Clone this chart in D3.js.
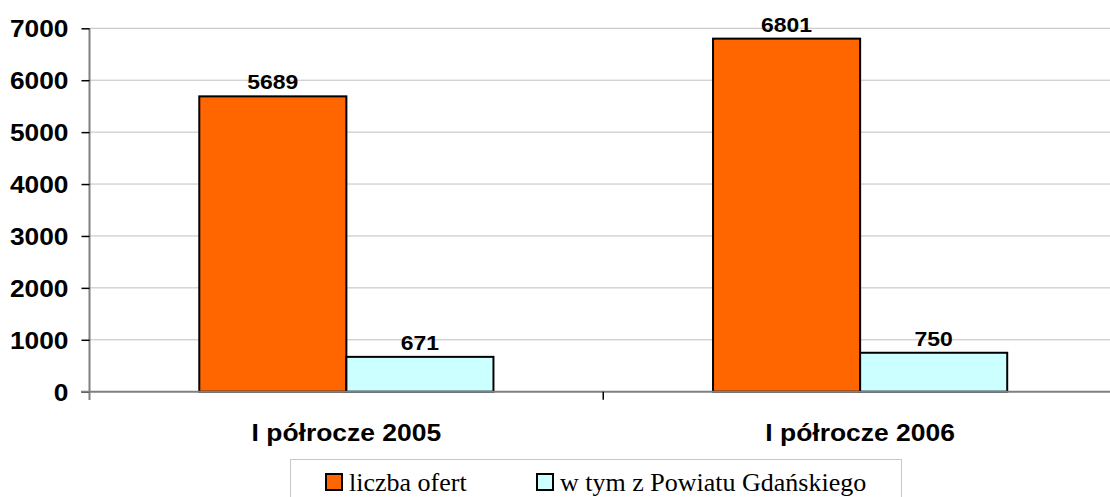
<!DOCTYPE html>
<html><head><meta charset="utf-8">
<script src="https://cdn.jsdelivr.net/npm/d3@7"></script>
<style>body{margin:0;background:#fff}svg{display:block}</style>
</head><body>
<svg id="c" width="1110" height="497"></svg>
<script>
const categories = ["I półrocze 2005", "I półrocze 2006"];
const seriesNames = ["liczba ofert", "w tym z Powiatu Gdańskiego"];
const liczbaOfert = [5689, 6801];
const powiatGdanski = [671, 750];
const yTicks = [0, 1000, 2000, 3000, 4000, 5000, 6000, 7000];
const colors = ["#FF6600", "#CCFFFF"];

const svg = d3.select("#c");
const x0 = d3.scaleBand().domain(categories).range([89.5, 1117]).padding(0);
const bw = x0.bandwidth();
const x1 = d3.scaleBand().domain(seriesNames).range([bw*0.2137, bw*0.7863]).padding(0);
const y = d3.scaleLinear().domain([0, 7000]).range([391.7, 28.3]);

// gridlines
svg.append("g").selectAll("line").data(yTicks.filter(d => d > 0)).join("line")
  .attr("x1", 89.5).attr("x2", 1117).attr("y1", d => y(d)).attr("y2", d => y(d))
  .attr("stroke", "#c0c0c0").attr("stroke-width", 1);

// bars
const values = [liczbaOfert, powiatGdanski];
const data = [];
categories.forEach((c, i) => seriesNames.forEach((s, j) => data.push({c, s, j, v: values[j][i]})));
svg.append("g").selectAll("rect").data(data).join("rect")
  .attr("x", d => x0(d.c) + x1(d.s)).attr("width", x1.bandwidth())
  .attr("y", d => y(d.v)).attr("height", d => y(0) - y(d.v))
  .attr("fill", d => colors[d.j]).attr("stroke", "#000").attr("stroke-width", 2);

// data labels (slightly wide glyphs as in the reference)
svg.append("g").selectAll("text").data(data).join("text")
  .attr("transform", d => `translate(${x0(d.c) + x1(d.s) + x1.bandwidth()/2},${y(d.v) - 7}) scale(1.12,1)`)
  .attr("text-anchor", "middle").attr("font-family", "Liberation Sans, Arial, sans-serif")
  .attr("font-weight", "bold").attr("font-size", 20.5).attr("fill", "#000").text(d => d.v);

// y axis
const yAxis = d3.axisLeft(y).tickValues(yTicks).tickSize(8).tickPadding(13).tickFormat(d3.format("d"));
const ga = svg.append("g").attr("transform", "translate(89.5,0)").call(yAxis);
ga.select(".domain").attr("stroke", "#808080").attr("stroke-width", 2).attr("d", "M0,28.3V400");
ga.selectAll(".tick line").attr("stroke", "#000").attr("stroke-width", 1.5);
ga.selectAll(".tick text").attr("font-family", "Liberation Sans, Arial, sans-serif")
  .attr("font-weight", "bold").attr("font-size", 23.5).attr("fill", "#000").attr("dy", "0.36em")
  .attr("x", 0).attr("transform", "translate(-21,0) scale(1.12,1)");

// x axis
const xAxis = d3.axisBottom(x0).tickSize(0).tickPadding(32);
const gx = svg.append("g").attr("transform", `translate(0,${y(0)})`).call(xAxis);
gx.select(".domain").attr("stroke", "#808080").attr("stroke-width", 2).attr("d", "M81,0H1117");
gx.selectAll(".tick text").attr("font-family", "Liberation Sans, Arial, sans-serif")
  .attr("font-weight", "bold").attr("font-size", 24.5).attr("fill", "#000")
  .attr("transform", "scale(1.08,1)");
// category separator ticks
svg.append("g").selectAll("line").data(categories.slice(1)).join("line")
  .attr("x1", d => x0(d)).attr("x2", d => x0(d)).attr("y1", y(0)).attr("y2", y(0) + 8)
  .attr("stroke", "#000").attr("stroke-width", 1.5);

// legend
const lg = svg.append("g");
lg.append("rect").attr("x", 290.5).attr("y", 459.5).attr("width", 611).attr("height", 60)
  .attr("fill", "#fff").attr("stroke", "#c8c8c8").attr("stroke-width", 1);
const legX = [326, 537];
seriesNames.forEach((s, i) => {
  lg.append("rect").attr("x", legX[i]).attr("y", 474).attr("width", 16).attr("height", 16)
    .attr("fill", colors[i]).attr("stroke", "#000").attr("stroke-width", 2);
  lg.append("text").attr("x", legX[i] + 23).attr("y", 490.5)
    .attr("font-family", "Liberation Serif, Times New Roman, serif").attr("font-size", 26)
    .attr("fill", "#000").text(s);
});
</script>
</body></html>
